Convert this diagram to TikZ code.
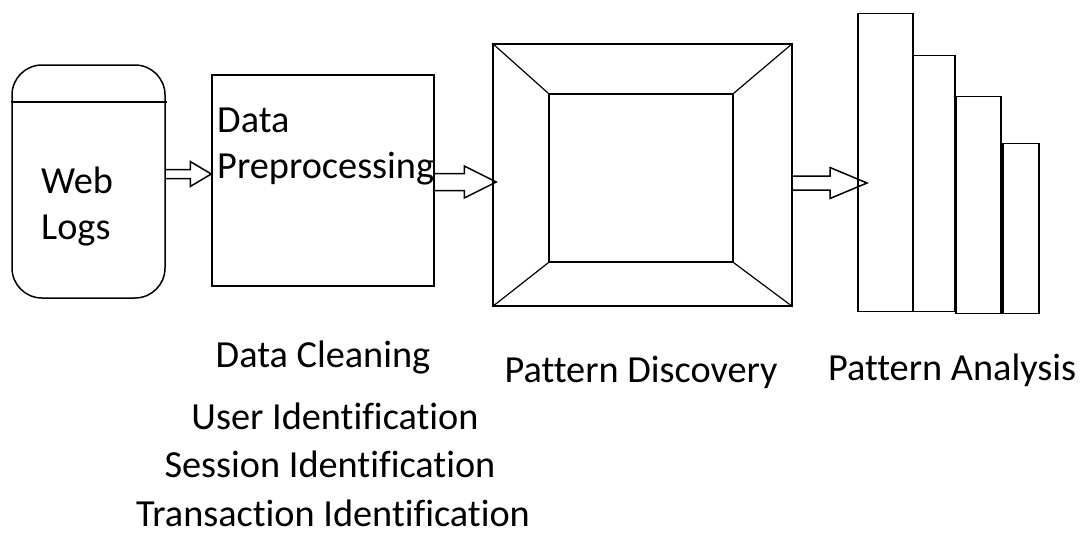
\documentclass[tikz,border=0pt]{standalone}
\usepackage{fontspec}
\setmainfont[Ligatures={NoCommon}]{Carlito}
\usetikzlibrary{positioning,calc}

\tikzset{
  box/.style={draw, line width=1.5pt, inner sep=0pt},
  txt/.style={font=\fontsize{38.3}{46}\selectfont, inner sep=0pt, align=left},
  fatline/.style={draw, line width=1.5pt, line join=miter},
}
% start, tip, half shaft, half head, head length
\newcommand{\fatarrow}[5]{%
  \draw[fatline] ($(#1)+(0,-#3)$) -- ($(#2)+(-#5,-#3)$) -- ($(#2)+(-#5,-#4)$)
    -- (#2) -- ($(#2)+(-#5,#4)$) -- ($(#2)+(-#5,#3)$) -- ($(#1)+(0,#3)$);}

\begin{document}
\begin{tikzpicture}[x=1pt,y=-1pt]
        \useasboundingbox (0,0) rectangle (1084,536);
        % web logs
        \node[box, rounded corners=30pt, minimum width=153pt, minimum height=233pt] (weblogs) at (88.5,181.5) {};
        \draw[line width=1.5pt] (weblogs.west |- 0,102) -- ++(156,0);
        \node[txt, anchor=west] (weblogstext) at (41,206) {Web\\Logs};
        % preprocessing
        \node[box, minimum width=222pt, minimum height=211pt] (preproc) at (323,180.5) {};
        \node[txt, anchor=west] (preproctext) at (217,146) {Data\\Preprocessing};
        % discovery frame
        \node[box, minimum width=299pt, minimum height=262pt] (discovery) at (642.5,175) {};
        \node[box, minimum width=184pt, minimum height=168pt] (inner) at (641,178) {};
        \draw[line width=1.2pt] (discovery.north west) -- (inner.north west);
        \draw[line width=1.2pt] (discovery.north east) -- (inner.north east);
        \draw[line width=1.2pt] (discovery.south west) -- (inner.south west);
        \draw[line width=1.2pt] (discovery.south east) -- (inner.south east);
        % analysis bars
        \node[box, anchor=south west, minimum width=55pt, minimum height=298pt] (bar1) at (857,312) {};
        \node[box, anchor=south west, minimum width=42pt, minimum height=256pt] (bar2) at (912,312) {};
        \node[box, anchor=south west, minimum width=45pt, minimum height=217pt] (bar3) at (955,314) {};
        \node[box, anchor=south west, minimum width=36pt, minimum height=170pt] (bar4) at (1002,314) {};
        % arrows
        \coordinate (s1) at (weblogs.east |- 0,174);
        \coordinate (t1) at (preproc.west |- 0,174);
        \coordinate (s2) at (preproc.east |- 0,182);
        \coordinate (t2) at ($(discovery.west |- 0,182)+(4,0)$);
        \coordinate (s3) at (discovery.east |- 0,183);
        \coordinate (t3) at ($(bar1.west |- 0,183)+(10,0)$);
        \fatarrow{s1}{t1}{4.5}{12.5}{21}
        \fatarrow{s2}{t2}{8.5}{16}{32}
        \fatarrow{s3}{t3}{7}{15.5}{37}
        % captions
        \node[txt] (cleaning) at (323,357) {Data Cleaning};
        \node[txt] (useride) at (335,416) {User Identification};
        \node[txt] (sessionide) at (330,464) {Session Identification};
        \node[txt] (transide) at (333,513) {Transaction Identification};
        \node[txt] (disclabel) at (641,372) {Pattern Discovery};
        \node[txt] (analabel) at (952,370) {Pattern Analysis};
    \end{tikzpicture}
\end{document}
